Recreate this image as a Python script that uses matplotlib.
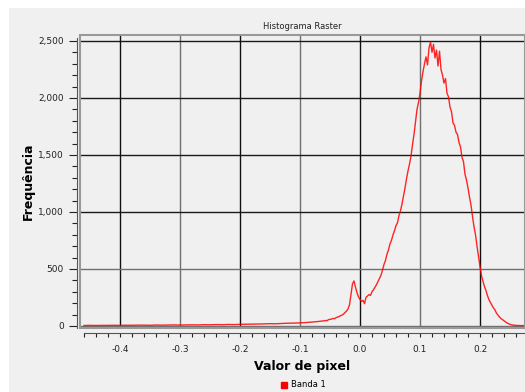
import numpy as np
from matplotlib import pyplot as plt
from matplotlib.patches import Rectangle
from matplotlib.lines import Line2D
from matplotlib.ticker import MultipleLocator, StrMethodFormatter

plt.rcParams['axes.unicode_minus'] = False

# histogram counts
# tail: bins every 0.01 from -0.46 to -0.07
tail_start, tail_stop = -0.46, -0.07
tail_counts = [4, 5, 4, 5, 5, 6, 5, 6, 6, 7,
               7, 6, 8, 7, 8, 9, 8, 9, 10, 9,
               11, 10, 12, 11, 13, 12, 14, 15, 16, 17,
               18, 20, 19, 22, 24, 25, 27, 30, 34, 39]
# main part: bins every 0.0025 from -0.06 to 0.275
main_start, main_stop = -0.06, 0.275
main_counts = [45, 48, 46, 55, 58, 60, 66, 64, 72, 78,
               82, 90, 95, 104, 118, 130, 150, 185, 280, 370,
               395, 340, 290, 255, 232, 215, 225, 195, 250, 262,
               275, 268, 300, 318, 340, 362, 390, 420, 445, 490,
               540, 575, 630, 668, 720, 752, 800, 835, 880, 905,
               970, 1010, 1070, 1140, 1210, 1290, 1360, 1420, 1490, 1590,
               1680, 1790, 1900, 1960, 2040, 2150, 2230, 2300, 2360, 2290,
               2440, 2490, 2400, 2470, 2350, 2420, 2280, 2410, 2250, 2200,
               2130, 2170, 2040, 2010, 1920, 1880, 1780, 1760, 1700, 1680,
               1610, 1570, 1480, 1440, 1330, 1280, 1210, 1130, 1060, 960,
               870, 800, 700, 610, 520, 440, 390, 345, 310, 265,
               230, 205, 180, 158, 140, 112, 95, 78, 65, 55,
               45, 34, 26, 20, 14, 10, 8, 6, 5, 4,
               4, 3, 3, 3, 2]

title = 'Histograma Raster'
x_label = 'Valor de pixel'
y_label = 'Frequência'
series_name = 'Banda 1'

x = np.concatenate([np.linspace(tail_start, tail_stop, len(tail_counts)),
                    np.linspace(main_start, main_stop, len(main_counts))])
y = np.array(tail_counts + main_counts)

W, H = 525, 392
bg = '#f0f0f0'
fig = plt.figure(figsize=(W / 100, H / 100), dpi=100, facecolor='white')
fig.add_artist(Rectangle((9 / W, 0), 1, 1 - 8 / H, transform=fig.transFigure,
                         facecolor=bg, edgecolor='none', zorder=-1))

ax = fig.add_axes([80 / W, 1 - 328 / H, 1 - 80 / W, (328 - 35) / H])
ax.set_facecolor(bg)
ax.plot(x, y, color='#ff0000', lw=1.0, alpha=0.85, zorder=3)
ax.set_xlim(-0.4667, 0.275)
ax.set_ylim(-18, 2552)

# frame around the plot area
for s in ax.spines.values():
    s.set_visible(False)
ax.add_patch(Rectangle((0, 0), 1, 1, transform=ax.transAxes, fill=False,
                       edgecolor='#999999', lw=1.5, clip_on=False, zorder=4))

# axis lines drawn a bit outside the frame
ax.spines['left'].set_visible(True)
ax.spines['bottom'].set_visible(True)
ax.spines['left'].set_position(('outward', 2.2))
ax.spines['bottom'].set_position(('outward', 3.6))
ax.spines['left'].set_color('#555555')
ax.spines['bottom'].set_color('#555555')
ax.spines['bottom'].set_bounds(-0.46, 0.275)
ax.spines['left'].set_bounds(-18, 2530)

ax.xaxis.set_major_locator(MultipleLocator(0.1))
ax.xaxis.set_minor_locator(MultipleLocator(0.02))
ax.yaxis.set_major_locator(MultipleLocator(500))
ax.yaxis.set_minor_locator(MultipleLocator(100))
ax.yaxis.set_major_formatter(StrMethodFormatter('{x:,.0f}'))
ax.xaxis.set_major_formatter(StrMethodFormatter('{x:.1f}'))

ax.tick_params(axis='x', which='both', length=3, width=0.8, color='#222222',
               labelsize=6.5, pad=6, labelcolor='#222222')
ax.tick_params(axis='y', which='major', length=6, width=0.8, color='#222222',
               labelsize=6.5, pad=3.5, labelcolor='#222222')
ax.tick_params(axis='y', which='minor', length=3.5, width=0.8, color='#222222')

# grid, alternating dark / grey like the original
xmin, xmax = ax.get_xlim()
for loc in ax.get_xticks():
    if xmin < loc < xmax:
        dark = int(round(loc * 10)) % 2 == 0
        ax.axvline(loc, color='#111111' if dark else '#707070', lw=1.0, zorder=1)
ymin, ymax = ax.get_ylim()
for loc in ax.get_yticks():
    if ymin < loc < ymax:
        ax.axhline(loc, color='#707070' if loc in (0, 500) else '#1a1a1a',
                   lw=1.0, zorder=1)

ax.set_title(title, fontsize=6, color='#222222', pad=4)
ax.set_xlabel(x_label, fontsize=9, fontweight='bold', labelpad=4)
ax.set_ylabel(y_label, fontsize=9, fontweight='bold', labelpad=2)

handle = Line2D([], [], marker='s', color='none', markerfacecolor='#ff0000',
                markeredgecolor='#ff0000', markersize=5)
fig.legend([handle], [series_name], loc='center', bbox_to_anchor=(0.578, 0.018),
           frameon=False, fontsize=6, handlelength=0.8, handletextpad=0.4,
           borderpad=0)

plt.savefig('out.png', dpi=100, facecolor=fig.get_facecolor())
